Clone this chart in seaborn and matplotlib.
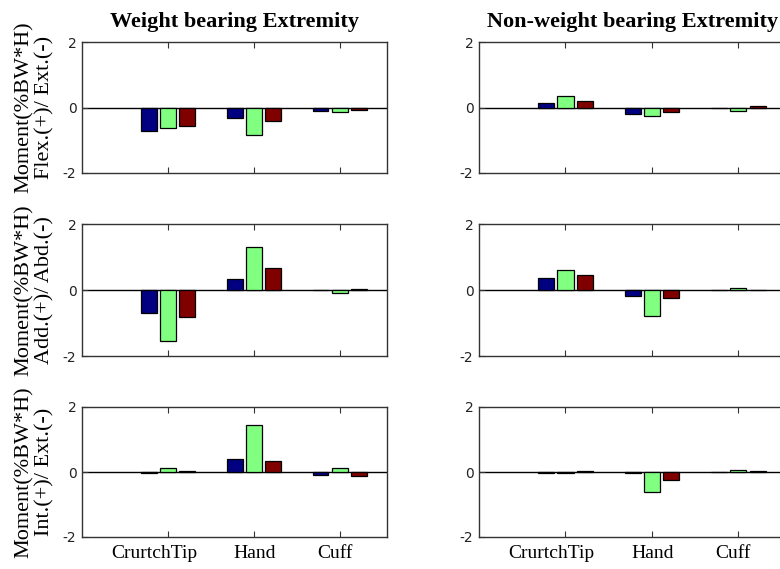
import matplotlib
matplotlib.use("Agg")
import matplotlib.pyplot as plt
import matplotlib.transforms as mtransforms
import pandas as pd
import seaborn as sns

# Locations along the crutch and the three series compared at each
categories = ["CrurtchTip", "Hand", "Cuff"]
series = ["S1", "S2", "S3"]
colors = ["#000080", "#80ff80", "#800000"]

# Moments (%BW*H): rows follow categories, columns follow series
wb_flex = [[-0.72, -0.64, -0.58], [-0.33, -0.84, -0.40], [-0.12, -0.15, -0.07]]
nwb_flex = [[0.15, 0.34, 0.19], [-0.21, -0.26, -0.14], [-0.03, -0.11, 0.05]]
wb_add = [[-0.71, -1.54, -0.81], [0.32, 1.31, 0.68], [0.00, -0.10, 0.03]]
nwb_add = [[0.35, 0.61, 0.46], [-0.17, -0.78, -0.23], [0.00, 0.07, 0.00]]
wb_int = [[-0.04, 0.13, 0.04], [0.40, 1.45, 0.33], [-0.08, 0.13, -0.12]]
nwb_int = [[-0.03, -0.03, 0.03], [-0.03, -0.62, -0.26], [0.00, 0.06, 0.03]]

col_titles = ["Weight bearing Extremity", "Non-weight bearing Extremity"]
row_labels = [
    "Moment(%BW*H)\nFlex.(+)/ Ext.(-)",
    "Moment(%BW*H)\nAdd.(+)/ Abd.(-)",
    "Moment(%BW*H)\nInt.(+)/ Ext.(-)",
]
y_ticks = [-2, 0, 2]
panels = [[wb_flex, nwb_flex], [wb_add, nwb_add], [wb_int, nwb_int]]

sns.set_theme(style="white")
plt.rcParams["axes.unicode_minus"] = False
plt.rcParams["font.family"] = ["Liberation Serif", "DejaVu Serif"]
plt.rcParams["text.color"] = "black"
plt.rcParams["axes.labelcolor"] = "black"
plt.rcParams["xtick.color"] = "black"
plt.rcParams["ytick.color"] = "black"

fig = plt.figure(figsize=(7.8, 5.69), dpi=100)
W, H = 780, 569

col_left = [82, 479]
col_width = [305, 307]
row_top = [42, 224, 407]
row_height = [131, 132, 130]

# small horizontal nudges of the location labels (pixels)
label_shift = [-14, 1, -5]


def to_frame(values):
    rows = []
    for ci, cat in enumerate(categories):
        for si, s in enumerate(series):
            rows.append({"loc": cat, "series": s, "moment": values[ci][si]})
    return pd.DataFrame(rows)


for r in range(3):
    for c in range(2):
        ax = fig.add_axes([
            col_left[c] / W,
            1 - (row_top[r] + row_height[r]) / H,
            col_width[c] / W,
            row_height[r] / H,
        ])
        df = to_frame(panels[r][c])
        sns.barplot(
            data=df, x="loc", y="moment", hue="series", order=categories,
            hue_order=series, palette=colors, width=0.672, gap=0.17,
            edgecolor="black", linewidth=0.9, saturation=1, errorbar=None,
            legend=False, ax=ax,
        )
        ax.axhline(0, color="black", linewidth=1.0, zorder=0.5)
        ax.set_xlim(-1, 2.55)
        ax.set_ylim(-2, 2)
        ax.set_yticks(y_ticks)
        ax.set_yticklabels([str(v) for v in y_ticks], family="DejaVu Sans",
                           fontsize=10, color="#222222")
        ax.set_xlabel("")
        ax.set_ylabel("")
        for sp in ax.spines.values():
            sp.set_visible(True)
            sp.set_color("#333333")
            sp.set_linewidth(1.0)
        ax.tick_params(axis="x", direction="in", top=True, bottom=True,
                       length=4, width=0.8, color="#333333", pad=6)
        ax.tick_params(axis="y", direction="in", left=True, right=False,
                       length=4, width=0.8, color="#333333", pad=4)
        if r == 2:
            ax.set_xticklabels(categories, fontsize=14, color="black")
            for lbl, dx in zip(ax.get_xticklabels(), label_shift):
                lbl.set_transform(lbl.get_transform() + mtransforms.ScaledTranslation(
                    dx / 100, 0, fig.dpi_scale_trans))
        else:
            ax.set_xticklabels([])
        if r == 0:
            ax.set_title(col_titles[c], fontsize=16, fontweight="bold", pad=11,
                         color="black")
        if c == 0:
            ax.set_ylabel(row_labels[r], fontsize=16, linespacing=1.1, labelpad=6,
                          color="black")

fig.savefig("out.png", dpi=100)
